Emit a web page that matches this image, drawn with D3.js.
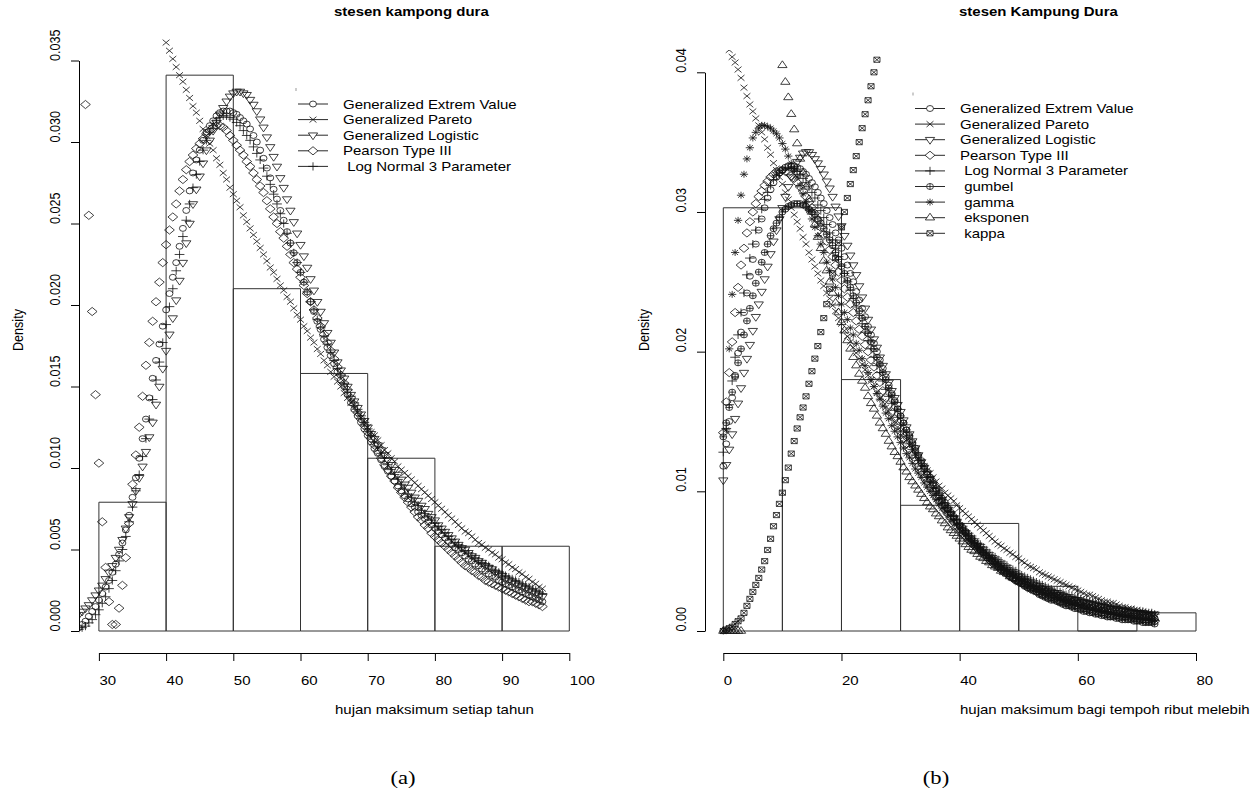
<!DOCTYPE html>
<html>
<head>
<meta charset="utf-8">
<script src="https://cdn.jsdelivr.net/npm/d3@7"></script>
<style>
body{margin:0;background:#fff}
text{font-family:"Liberation Sans",Arial,sans-serif;font-size:12.6px;fill:#000}
</style>
</head>
<body>
<script>
// ---------- panel (a): stesen kampong dura ----------
var xA = [27,27.5,28,28.5,29,29.5,30,30.5,31,31.5,
  32,32.5,33,33.5,34,34.5,35,35.5,36,36.5,
  37,37.5,38,38.5,39,39.5,40,40.5,41,41.5,
  42,42.5,43,43.5,44,44.5,45,45.5,46,46.5,
  47,47.5,48,48.5,49,49.5,50,50.5,51,51.5,
  52,52.5,53,53.5,54,54.5,55,55.5,56,56.5,
  57,57.5,58,58.5,59,59.5,60,60.5,61,61.5,
  62,62.5,63,63.5,64,64.5,65,65.5,66,66.5,
  67,67.5,68,68.5,69,69.5,70,70.5,71,71.5,
  72,72.5,73,73.5,74,74.5,75,75.5,76,76.5,
  77,77.5,78,78.5,79,79.5,80,80.5,81,81.5,
  82,82.5,83,83.5,84,84.5,85,85.5,86,86.5,
  87,87.5,88,88.5,89,89.5,90,90.5,91,91.5,
  92,92.5,93,93.5,94,94.5,95,95.5,96];
var gevA = [.0002,.0004,.0006,.0009,.0012,.0015,.0019,.0023,.0027,.0031,
  .0036,.0041,.0047,.0054,.0062,.0071,.0082,.0094,.0106,.0118,
  .0130,.0143,.0155,.0166,.0176,.0187,.0197,.0207,.0217,.0226,
  .0236,.0247,.0258,.0270,.0281,.0289,.0295,.0301,.0306,.0310,
  .0313,.0316,.0318,.0319,.0319,.0319,.0318,.0317,.0315,.0313,
  .0311,.0308,.0304,.0300,.0295,.0290,.0284,.0278,.0271,.0265,
  .0258,.0252,.0245,.0238,.0232,.0226,.0220,.0214,.0208,.0202,
  .0196,.0190,.0185,.0179,.0174,.0169,.0164,.0159,.0154,.0150,
  .0145,.0140,.0136,.0132,.0128,.0124,.0120,.0116,.0112,.0109,
  .0105,.0101,.0098,.0095,.0092,.0089,.0086,.0083,.0081,.0078,
  .0076,.0073,.0071,.0069,.0067,.0065,.0063,.0061,.0059,.0057,
  .0055,.0053,.0051,.0050,.0048,.0046,.0044,.0043,.0041,.0040,
  .0038,.0037,.0035,.0034,.0033,.0031,.0030,.0029,.0028,.0027,
  .0026,.0025,.0024,.0023,.0022,.0021,.0020,.0019,.0018];
var gpaA = [null,null,null,null,null,null,null,null,null,null,
  null,null,null,null,null,null,null,null,null,null,
  null,null,null,null,null,null,.0361,.0356,.0351,.0346,
  .0341,.0337,.0332,.0327,.0322,.0318,.0313,.0308,.0304,.0299,
  .0295,.0290,.0286,.0281,.0277,.0272,.0268,.0264,.0260,.0255,
  .0251,.0247,.0243,.0239,.0235,.0231,.0227,.0223,.0220,.0216,
  .0212,.0209,.0205,.0202,.0198,.0194,.0191,.0187,.0184,.0180,
  .0177,.0173,.0170,.0166,.0163,.0159,.0156,.0153,.0150,.0146,
  .0143,.0140,.0137,.0134,.0131,.0128,.0125,.0122,.0120,.0117,
  .0114,.0111,.0109,.0106,.0104,.0101,.0099,.0097,.0095,.0093,
  .0091,.0089,.0087,.0085,.0083,.0081,.0079,.0077,.0075,.0073,
  .0071,.0069,.0067,.0065,.0063,.0061,.0060,.0058,.0056,.0054,
  .0053,.0051,.0050,.0048,.0047,.0045,.0044,.0042,.0041,.0039,
  .0038,.0036,.0035,.0033,.0032,.0030,.0029,.0027,.0026];
var gloA = [.0010,.0012,.0014,.0016,.0019,.0022,.0025,.0028,.0032,.0036,
  .0040,.0045,.0050,.0056,.0063,.0070,.0078,.0086,.0094,.0101,
  .0110,.0119,.0128,.0139,.0150,.0161,.0172,.0182,.0192,.0203,
  .0215,.0226,.0238,.0250,.0262,.0271,.0279,.0287,.0295,.0301,
  .0307,.0312,.0317,.0321,.0325,.0328,.0330,.0331,.0331,.0330,
  .0329,.0326,.0323,.0319,.0314,.0309,.0303,.0297,.0291,.0285,
  .0278,.0272,.0265,.0258,.0251,.0244,.0237,.0230,.0223,.0216,
  .0209,.0202,.0196,.0189,.0183,.0177,.0171,.0165,.0160,.0155,
  .0150,.0145,.0141,.0137,.0133,.0129,.0125,.0121,.0118,.0114,
  .0111,.0108,.0105,.0102,.0099,.0096,.0093,.0090,.0088,.0085,
  .0082,.0080,.0077,.0075,.0072,.0070,.0068,.0065,.0063,.0061,
  .0059,.0057,.0055,.0053,.0051,.0050,.0048,.0046,.0045,.0043,
  .0042,.0040,.0039,.0038,.0036,.0035,.0034,.0032,.0031,.0030,
  .0029,.0028,.0027,.0026,.0025,.0024,.0023,.0022,.0021];
var pe3A = [null,null,.0323,.0255,.0196,.0145,.0103,.0067,.0039,.0018,
  .0004,.0004,.0014,.0028,.0045,.0066,.0090,.0108,.0125,.0144,
  .0163,.0177,.0190,.0202,.0214,.0226,.0237,.0246,.0254,.0262,
  .0270,.0277,.0283,.0288,.0292,.0296,.0299,.0302,.0305,.0307,
  .0309,.0310,.0310,.0309,.0307,.0304,.0301,.0298,.0295,.0292,
  .0288,.0285,.0281,.0277,.0273,.0269,.0264,.0259,.0254,.0250,
  .0245,.0241,.0236,.0231,.0226,.0222,.0217,.0212,.0207,.0202,
  .0197,.0192,.0187,.0182,.0177,.0172,.0167,.0162,.0157,.0152,
  .0148,.0143,.0139,.0134,.0130,.0126,.0122,.0118,.0114,.0110,
  .0106,.0102,.0099,.0095,.0092,.0088,.0085,.0082,.0079,.0076,
  .0073,.0070,.0068,.0065,.0063,.0060,.0058,.0056,.0054,.0052,
  .0050,.0048,.0046,.0044,.0042,.0040,.0039,.0037,.0036,.0034,
  .0033,.0031,.0030,.0029,.0028,.0027,.0026,.0025,.0024,.0023,
  .0022,.0021,.0020,.0019,.0018,.0018,.0017,.0016,.0015];
var ln3A = [.0001,.0002,.0003,.0005,.0007,.0010,.0013,.0017,.0021,.0026,
  .0031,.0037,.0043,.0050,.0058,.0067,.0076,.0086,.0096,.0107,
  .0118,.0130,.0142,.0154,.0165,.0177,.0188,.0199,.0210,.0221,
  .0231,.0242,.0252,.0262,.0272,.0280,.0288,.0295,.0301,.0306,
  .0310,.0313,.0315,.0316,.0316,.0315,.0314,.0312,.0310,.0307,
  .0304,.0301,.0297,.0293,.0289,.0284,.0279,.0274,.0268,.0262,
  .0256,.0250,.0244,.0238,.0232,.0226,.0220,.0214,.0208,.0202,
  .0197,.0191,.0186,.0181,.0176,.0171,.0166,.0161,.0157,.0152,
  .0148,.0144,.0140,.0136,.0132,.0128,.0124,.0120,.0116,.0113,
  .0109,.0106,.0102,.0099,.0096,.0093,.0090,.0087,.0084,.0082,
  .0079,.0077,.0074,.0072,.0070,.0068,.0066,.0064,.0062,.0060,
  .0058,.0056,.0054,.0053,.0051,.0049,.0048,.0046,.0045,.0043,
  .0042,.0041,.0040,.0038,.0037,.0036,.0035,.0034,.0033,.0032,
  .0031,.0030,.0029,.0028,.0027,.0026,.0025,.0024,.0023];
var breaksA = [30,40,50,60,70,80,90,100];
var densA = [0.0079,0.0341,0.0210,0.0158,0.0106,0.0052,0.0052];
var xTicksA = [30,40,50,60,70,80,90,100];
var yTicksA = [0,0.005,0.010,0.015,0.020,0.025,0.030,0.035];
var yLabelsA = ["0.000","0.005","0.010","0.015","0.020","0.025","0.030","0.035"];
var namesA = ["Generalized Extrem Value","Generalized Pareto","Generalized Logistic","Pearson Type III"," Log Normal 3 Parameter"];

// ---------- panel (b): stesen Kampung Dura ----------
var xB = [0,0.5,1,1.5,2,2.5,3,3.5,4,4.5,
  5,5.5,6,6.5,7,7.5,8,8.5,9,9.5,
  10,10.5,11,11.5,12,12.5,13,13.5,14,14.5,
  15,15.5,16,16.5,17,17.5,18,18.5,19,19.5,
  20,20.5,21,21.5,22,22.5,23,23.5,24,24.5,
  25,25.5,26,26.5,27,27.5,28,28.5,29,29.5,
  30,30.5,31,31.5,32,32.5,33,33.5,34,34.5,
  35,35.5,36,36.5,37,37.5,38,38.5,39,39.5,
  40,40.5,41,41.5,42,42.5,43,43.5,44,44.5,
  45,45.5,46,46.5,47,47.5,48,48.5,49,49.5,
  50,50.5,51,51.5,52,52.5,53,53.5,54,54.5,
  55,55.5,56,56.5,57,57.5,58,58.5,59,59.5,
  60,60.5,61,61.5,62,62.5,63,63.5,64,64.5,
  65,65.5,66,66.5,67,67.5,68,68.5,69,69.5,
  70,70.5,71,71.5,72,72.5,73];
var gevB = [.0118,.0134,.0150,.0167,.0183,.0199,.0214,.0228,.0242,.0254,
  .0266,.0277,.0287,.0295,.0303,.0310,.0316,.0321,.0325,.0328,
  .0330,.0332,.0333,.0333,.0333,.0332,.0331,.0329,.0327,.0324,
  .0321,.0318,.0314,.0310,.0306,.0301,.0296,.0291,.0285,.0280,
  .0274,.0268,.0262,.0256,.0250,.0243,.0237,.0231,.0225,.0218,
  .0212,.0206,.0200,.0194,.0188,.0182,.0176,.0170,.0165,.0159,
  .0154,.0149,.0144,.0139,.0134,.0129,.0125,.0120,.0116,.0112,
  .0108,.0104,.0100,.0096,.0093,.0090,.0087,.0084,.0081,.0078,
  .0075,.0072,.0070,.0067,.0065,.0062,.0060,.0058,.0056,.0054,
  .0052,.0050,.0049,.0047,.0045,.0044,.0042,.0041,.0040,.0038,
  .0037,.0036,.0035,.0033,.0032,.0031,.0030,.0029,.0028,.0027,
  .0027,.0026,.0025,.0024,.0024,.0023,.0022,.0021,.0021,.0020,
  .0020,.0019,.0018,.0018,.0017,.0017,.0016,.0016,.0015,.0015,
  .0014,.0014,.0014,.0013,.0013,.0012,.0012,.0012,.0011,.0011,
  .0011,.0010,.0010,.0010,.0010,.0009,.0009];
var gpaB = [.0426,.0421,.0416,.0411,.0407,.0402,.0396,.0389,.0383,.0377,
  .0372,.0367,.0362,.0357,.0352,.0346,.0341,.0335,.0330,.0325,
  .0320,.0314,.0309,.0303,.0298,.0293,.0288,.0282,.0277,.0271,
  .0266,.0261,.0256,.0251,.0247,.0242,.0238,.0233,.0229,.0224,
  .0220,.0215,.0211,.0207,.0203,.0199,.0195,.0191,.0187,.0183,
  .0179,.0175,.0171,.0167,.0164,.0160,.0157,.0153,.0150,.0146,
  .0143,.0139,.0136,.0133,.0130,.0127,.0124,.0121,.0118,.0115,
  .0113,.0110,.0107,.0104,.0102,.0099,.0097,.0095,.0093,.0090,
  .0088,.0086,.0084,.0082,.0080,.0078,.0076,.0074,.0072,.0070,
  .0068,.0066,.0064,.0062,.0061,.0059,.0058,.0056,.0055,.0053,
  .0052,.0050,.0049,.0047,.0046,.0045,.0044,.0042,.0041,.0040,
  .0039,.0038,.0037,.0036,.0035,.0034,.0033,.0032,.0031,.0030,
  .0029,.0028,.0027,.0026,.0026,.0025,.0024,.0023,.0022,.0021,
  .0021,.0020,.0020,.0019,.0018,.0017,.0017,.0016,.0016,.0015,
  .0015,.0014,.0014,.0013,.0013,.0012,.0012];
var gloB = [.0108,.0119,.0130,.0141,.0152,.0163,.0174,.0185,.0195,.0205,
  .0215,.0225,.0234,.0243,.0252,.0261,.0270,.0279,.0287,.0295,
  .0303,.0311,.0318,.0325,.0331,.0336,.0339,.0342,.0343,.0343,
  .0341,.0338,.0335,.0331,.0327,.0322,.0317,.0311,.0304,.0297,
  .0290,.0283,.0276,.0269,.0262,.0255,.0247,.0239,.0231,.0223,
  .0216,.0209,.0203,.0196,.0190,.0184,.0178,.0172,.0167,.0162,
  .0157,.0151,.0146,.0141,.0136,.0131,.0126,.0121,.0117,.0113,
  .0109,.0105,.0101,.0097,.0094,.0090,.0087,.0084,.0081,.0078,
  .0075,.0072,.0070,.0067,.0065,.0063,.0061,.0059,.0057,.0055,
  .0053,.0051,.0050,.0048,.0047,.0045,.0044,.0042,.0041,.0040,
  .0039,.0037,.0036,.0035,.0034,.0033,.0032,.0031,.0030,.0029,
  .0029,.0028,.0027,.0026,.0026,.0025,.0024,.0023,.0023,.0022,
  .0022,.0021,.0021,.0020,.0020,.0019,.0019,.0018,.0018,.0017,
  .0017,.0016,.0016,.0016,.0015,.0015,.0015,.0014,.0014,.0013,
  .0013,.0013,.0013,.0012,.0012,.0012,.0012];
var pe3B = [.0142,.0164,.0185,.0207,.0228,.0246,.0262,.0274,.0285,.0293,
  .0300,.0306,.0311,.0315,.0319,.0322,.0325,.0327,.0329,.0330,
  .0330,.0329,.0328,.0326,.0324,.0321,.0318,.0315,.0311,.0307,
  .0303,.0299,.0294,.0289,.0284,.0279,.0273,.0268,.0262,.0257,
  .0251,.0245,.0239,.0234,.0228,.0222,.0216,.0211,.0205,.0200,
  .0194,.0189,.0183,.0178,.0172,.0167,.0162,.0157,.0152,.0147,
  .0143,.0138,.0134,.0130,.0126,.0122,.0118,.0114,.0110,.0107,
  .0103,.0100,.0096,.0093,.0090,.0087,.0084,.0081,.0078,.0075,
  .0073,.0070,.0068,.0065,.0063,.0061,.0059,.0057,.0055,.0053,
  .0051,.0049,.0047,.0046,.0044,.0042,.0041,.0039,.0038,.0036,
  .0035,.0034,.0033,.0031,.0030,.0029,.0028,.0027,.0026,.0025,
  .0024,.0024,.0023,.0022,.0021,.0020,.0020,.0019,.0018,.0018,
  .0017,.0016,.0016,.0015,.0015,.0014,.0014,.0013,.0013,.0012,
  .0012,.0011,.0011,.0011,.0010,.0010,.0010,.0009,.0009,.0009,
  .0008,.0008,.0008,.0007,.0007,.0007,.0007];
var ln3B = [.0128,.0145,.0162,.0179,.0196,.0212,.0228,.0242,.0255,.0267,
  .0277,.0287,.0295,.0302,.0309,.0314,.0319,.0323,.0326,.0328,
  .0330,.0331,.0332,.0332,.0331,.0329,.0327,.0324,.0321,.0318,
  .0314,.0310,.0305,.0301,.0296,.0291,.0285,.0280,.0274,.0268,
  .0262,.0256,.0250,.0244,.0238,.0232,.0226,.0220,.0214,.0208,
  .0202,.0196,.0190,.0185,.0179,.0173,.0168,.0163,.0158,.0153,
  .0148,.0143,.0139,.0134,.0130,.0126,.0122,.0118,.0114,.0110,
  .0107,.0103,.0100,.0097,.0094,.0091,.0088,.0085,.0082,.0080,
  .0077,.0075,.0072,.0070,.0068,.0066,.0063,.0062,.0060,.0058,
  .0056,.0054,.0053,.0051,.0050,.0048,.0047,.0045,.0044,.0043,
  .0041,.0040,.0039,.0038,.0037,.0036,.0035,.0034,.0033,.0032,
  .0031,.0030,.0029,.0029,.0028,.0027,.0026,.0026,.0025,.0024,
  .0024,.0023,.0022,.0022,.0021,.0021,.0020,.0020,.0019,.0019,
  .0018,.0018,.0017,.0017,.0016,.0016,.0016,.0015,.0015,.0015,
  .0014,.0014,.0014,.0013,.0013,.0013,.0012];
var gumB = [.0139,.0149,.0160,.0171,.0182,.0192,.0202,.0212,.0222,.0231,
  .0240,.0249,.0257,.0264,.0271,.0277,.0283,.0288,.0292,.0296,
  .0300,.0302,.0304,.0305,.0306,.0306,.0306,.0305,.0304,.0302,
  .0300,.0298,.0295,.0292,.0288,.0284,.0280,.0276,.0271,.0266,
  .0261,.0256,.0251,.0246,.0240,.0235,.0229,.0224,.0218,.0213,
  .0207,.0202,.0196,.0191,.0185,.0180,.0174,.0169,.0164,.0159,
  .0154,.0149,.0144,.0140,.0135,.0131,.0126,.0122,.0118,.0114,
  .0110,.0106,.0102,.0099,.0095,.0092,.0088,.0085,.0082,.0079,
  .0076,.0074,.0071,.0068,.0066,.0063,.0061,.0058,.0056,.0054,
  .0052,.0050,.0048,.0046,.0044,.0043,.0041,.0039,.0038,.0036,
  .0035,.0034,.0032,.0031,.0030,.0029,.0028,.0026,.0025,.0024,
  .0023,.0022,.0022,.0021,.0020,.0019,.0018,.0018,.0017,.0016,
  .0016,.0015,.0014,.0014,.0013,.0013,.0012,.0012,.0011,.0011,
  .0010,.0010,.0010,.0009,.0009,.0008,.0008,.0008,.0008,.0007,
  .0007,.0007,.0006,.0006,.0006,.0006,.0005];
var gamB = [.0000,.0144,.0202,.0241,.0271,.0294,.0312,.0327,.0338,.0346,
  .0353,.0357,.0360,.0362,.0362,.0361,.0360,.0358,.0356,.0353,
  .0349,.0345,.0340,.0335,.0330,.0325,.0319,.0313,.0307,.0301,
  .0295,.0289,.0283,.0277,.0271,.0264,.0258,.0252,.0246,.0240,
  .0234,.0228,.0223,.0217,.0212,.0206,.0201,.0195,.0190,.0185,
  .0180,.0175,.0170,.0166,.0161,.0156,.0152,.0147,.0143,.0139,
  .0135,.0131,.0127,.0124,.0120,.0116,.0113,.0110,.0106,.0103,
  .0100,.0097,.0094,.0091,.0088,.0086,.0083,.0080,.0078,.0076,
  .0073,.0071,.0069,.0066,.0064,.0062,.0060,.0059,.0057,.0055,
  .0053,.0052,.0050,.0048,.0047,.0045,.0044,.0042,.0041,.0040,
  .0038,.0037,.0036,.0035,.0033,.0032,.0031,.0030,.0029,.0028,
  .0027,.0027,.0026,.0025,.0024,.0023,.0022,.0022,.0021,.0020,
  .0020,.0019,.0018,.0018,.0017,.0016,.0016,.0015,.0015,.0014,
  .0014,.0013,.0013,.0012,.0012,.0012,.0011,.0011,.0011,.0010,
  .0010,.0010,.0009,.0009,.0009,.0008,.0008];
var expB = [0,0,0,0,0,0,0,.0601,.0583,.0565,
  .0549,.0533,.0517,.0501,.0486,.0472,.0458,.0444,.0431,.0418,
  .0405,.0393,.0382,.0370,.0359,.0349,.0338,.0328,.0318,.0309,
  .0300,.0291,.0282,.0274,.0265,.0258,.0250,.0242,.0235,.0228,
  .0221,.0215,.0208,.0202,.0196,.0190,.0184,.0179,.0174,.0168,
  .0163,.0159,.0154,.0149,.0145,.0141,.0136,.0132,.0128,.0125,
  .0121,.0117,.0114,.0110,.0107,.0104,.0101,.0098,.0095,.0092,
  .0089,.0087,.0084,.0082,.0079,.0077,.0074,.0072,.0070,.0068,
  .0066,.0064,.0062,.0060,.0058,.0057,.0055,.0053,.0052,.0050,
  .0049,.0047,.0046,.0045,.0043,.0042,.0041,.0039,.0038,.0037,
  .0036,.0035,.0034,.0033,.0032,.0031,.0030,.0029,.0028,.0028,
  .0027,.0026,.0025,.0024,.0024,.0023,.0022,.0021,.0021,.0020,
  .0020,.0019,.0018,.0018,.0017,.0017,.0016,.0016,.0015,.0015,
  .0015,.0014,.0014,.0013,.0013,.0012,.0012,.0012,.0011,.0011,
  .0011,.0010,.0010,.0010,.0010,.0009,.0009];
var kapB = [.0000,.0001,.0002,.0003,.0005,.0007,.0009,.0013,.0018,.0023,
  .0028,.0033,.0038,.0044,.0050,.0058,.0066,.0075,.0083,.0091,
  .0099,.0108,.0117,.0127,.0136,.0145,.0153,.0160,.0168,.0177,
  .0186,.0195,.0204,.0214,.0224,.0234,.0245,.0256,.0267,.0278,
  .0289,.0300,.0310,.0320,.0330,.0340,.0350,.0360,.0370,.0380,
  .0390,.0400,.0409,.0419,.0429];
var breaksB = [0,10,20,30,40,50,60,70,80];
var densB = [0.0303,0.0303,0.0180,0.0090,0.0077,0.0032,0,0.0013];
var xTicksB = [0,20,40,60,80];
var yTicksB = [0,0.01,0.02,0.03,0.04];
var yLabelsB = ["0.00","0.01","0.02","0.03","0.04"];
var namesB = ["Generalized Extrem Value","Generalized Pareto","Generalized Logistic","Pearson Type III",
  " Log Normal 3 Parameter"," gumbel"," gamma"," eksponen"," kappa"];

var SX = 1.19;   // the picture is stretched sideways
var R = 2.9;     // marker radius

svg = d3.select("body").append("svg")
        .attr("width",1253)
        .attr("height",792);
svg.append("rect").attr("width",1253).attr("height",792).attr("fill","#fff");

// marker shapes, R pch codes
var symbol = function(pch){
    var r=R, q, t=function(x,y){return (x*SX).toFixed(2)+","+y.toFixed(2);};
    var circ=function(rr){return "M"+t(-rr,0)+"A"+(rr*SX)+","+rr+" 0 1,0 "+t(rr,0)+"A"+(rr*SX)+","+rr+" 0 1,0 "+t(-rr,0)+"Z";};
    var plus=function(h){return "M"+t(-h,0)+"L"+t(h,0)+"M"+t(0,-h)+"L"+t(0,h);};
    var cross=function(h){return "M"+t(-h,-h)+"L"+t(h,h)+"M"+t(-h,h)+"L"+t(h,-h);};
    if(pch==1) return circ(r);
    if(pch==2) return "M"+t(0,-1.555*r)+"L"+t(1.347*r,0.777*r)+"L"+t(-1.347*r,0.777*r)+"Z";
    if(pch==6) return "M"+t(0,1.555*r)+"L"+t(1.347*r,-0.777*r)+"L"+t(-1.347*r,-0.777*r)+"Z";
    if(pch==3) return plus(1.414*r);
    if(pch==4) return cross(r);
    if(pch==5){q=1.414*r; return "M"+t(-q,0)+"L"+t(0,-q)+"L"+t(q,0)+"L"+t(0,q)+"Z";}
    if(pch==7){q=0.886*r; return "M"+t(-q,-q)+"L"+t(q,-q)+"L"+t(q,q)+"L"+t(-q,q)+"Z"+cross(q);}
    if(pch==8) return plus(1.2*r)+cross(0.85*r);
    if(pch==10) return circ(r)+plus(r);
    return "";
};

var stretchText=function(g,x,y,str,rot){
    return g.append("text")
            .attr("transform","translate("+x+","+y+") scale("+SX+",1)"+(rot?" rotate(-90)":""))
            .text(str);
};

var drawPanel=function(cfg){
    var g = svg.append("g").attr("class",cfg.id);
    var x = d3.scaleLinear().domain(cfg.xdom).range(cfg.xrange);
    var y = d3.scaleLinear().domain(cfg.ydom).range([631,cfg.ytop]);

    var clip = svg.append("defs").append("clipPath").attr("id","clip"+cfg.id);
    clip.append("rect")
        .attr("x",cfg.clip[0]).attr("y",cfg.clip[1])
        .attr("width",cfg.clip[2]-cfg.clip[0]).attr("height",cfg.clip[3]-cfg.clip[1]);

    //histogram
    var histGroup = g.append("g").attr("clip-path","url(#clip"+cfg.id+")");
    histGroup.selectAll("path").data(cfg.dens).enter().append("path")
        .attr("d",function(d,i){
            var x0=x(cfg.breaks[i]), x1=x(cfg.breaks[i+1]), y0=y(0), y1=y(d);
            return "M"+x0+","+y0+"V"+y1+"H"+x1+"V"+y0+"Z";
        })
        .attr("fill","none").attr("stroke","#333").attr("stroke-width",1);

    //fitted densities as points
    var ptsGroup = g.append("g").attr("clip-path","url(#clip"+cfg.id+")");
    cfg.series.forEach(function(s){
        var pts = cfg.xs.map(function(v,i){return [v,s.vals[i]];})
                         .filter(function(p){return p[1]!=null;});
        ptsGroup.append("g").selectAll("path").data(pts).enter().append("path")
            .attr("transform",function(p){return "translate("+x(p[0])+","+y(p[1])+")";})
            .attr("d",symbol(s.pch))
            .attr("fill","none").attr("stroke","#111").attr("stroke-width",0.8);
    });

    //axes
    var xAxis = g.append("g").attr("transform","translate(0,653)")
        .call(d3.axisBottom(x).tickValues(cfg.xticks).tickSize(8).tickSizeOuter(0).tickFormat(d3.format("d")))
        .attr("font-family",null).attr("font-size",null);
    xAxis.selectAll("text").attr("y",null).attr("dy",null).attr("x",null)
        .attr("text-anchor","start").attr("transform","translate(0,31.5) scale("+SX+",1)");
    var yAxis = g.append("g").attr("transform","translate("+cfg.yaxisX+",0)")
        .call(d3.axisLeft(y).tickValues(cfg.yticks).tickSize(8).tickSizeOuter(0)
              .tickFormat(function(d,i){return cfg.ylabels[i];}))
        .attr("font-family",null).attr("font-size",null);
    yAxis.selectAll("text").attr("x",null).attr("dy",null).attr("y",null)
        .attr("text-anchor","start").attr("transform","translate(-19,0) scale("+SX+",1) rotate(-90)");
    g.selectAll(".domain, .tick line").attr("stroke","#000").attr("stroke-width",1);

    //titles
    stretchText(g,cfg.titleX,16,cfg.title).attr("font-weight","bold");
    stretchText(g,cfg.titleX+1,714,cfg.xlab);
    stretchText(g,cfg.yaxisX-56,351,"Density",true);
    stretchText(g,cfg.capX,784,cfg.cap)
        .style("font-family","'Liberation Serif','Times New Roman',serif").style("font-size","19px")
        .attr("text-anchor","middle");

    //legend
    var legend = g.append("g").attr("class","legend");
    legend.append("line").attr("x1",cfg.leg[0]-2).attr("x2",cfg.leg[0]-2)
        .attr("y1",cfg.leg[1]-16).attr("y2",cfg.leg[1]-13).attr("stroke","#999").attr("stroke-width",1);
    cfg.series.forEach(function(s,i){
        var ly = cfg.leg[1]+i*15.6;
        legend.append("line").attr("x1",cfg.leg[0]).attr("x2",cfg.leg[0]+30)
            .attr("y1",ly).attr("y2",ly).attr("stroke","#111").attr("stroke-width",0.9);
        legend.append("path").attr("transform","translate("+(cfg.leg[0]+15)+","+ly+")")
            .attr("d",symbol(s.pch)).attr("fill","#fff").attr("stroke","#111").attr("stroke-width",0.8);
        stretchText(legend,cfg.leg[0]+45,ly+4.5,s.name).style("white-space","pre");
    });
};

drawPanel({
    id:"A", xs:xA, xdom:[30,100], xrange:[98.9,569.3], ydom:[0,0.035], ytop:60.5,
    clip:[79.5,37.8,588.8,654], yaxisX:79,
    breaks:breaksA, dens:densA, xticks:xTicksA, yticks:yTicksA, ylabels:yLabelsA,
    title:"stesen kampong dura", titleX:334, xlab:"hujan maksimum setiap tahun", cap:"(a)", capX:403,
    leg:[298,104],
    series:[
        {name:namesA[0], pch:1, vals:gevA},
        {name:namesA[1], pch:4, vals:gpaA},
        {name:namesA[2], pch:6, vals:gloA},
        {name:namesA[3], pch:5, vals:pe3A},
        {name:namesA[4], pch:3, vals:ln3A}
    ]
});

drawPanel({
    id:"B", xs:xB, xdom:[0,80], xrange:[723.3,1196], ydom:[0,0.04], ytop:72.3,
    clip:[704.4,50,1215,654], yaxisX:705,
    breaks:breaksB, dens:densB, xticks:xTicksB, yticks:yTicksB, ylabels:yLabelsB,
    title:"stesen Kampung Dura", titleX:959, xlab:"hujan maksimum bagi tempoh ribut melebih", cap:"(b)", capX:936,
    leg:[915,108.5],
    series:[
        {name:namesB[0], pch:1, vals:gevB},
        {name:namesB[1], pch:4, vals:gpaB},
        {name:namesB[2], pch:6, vals:gloB},
        {name:namesB[3], pch:5, vals:pe3B},
        {name:namesB[4], pch:3, vals:ln3B},
        {name:namesB[5], pch:10, vals:gumB},
        {name:namesB[6], pch:8, vals:gamB},
        {name:namesB[7], pch:2, vals:expB},
        {name:namesB[8], pch:7, vals:kapB}
    ]
});
</script>
</body>
</html>
